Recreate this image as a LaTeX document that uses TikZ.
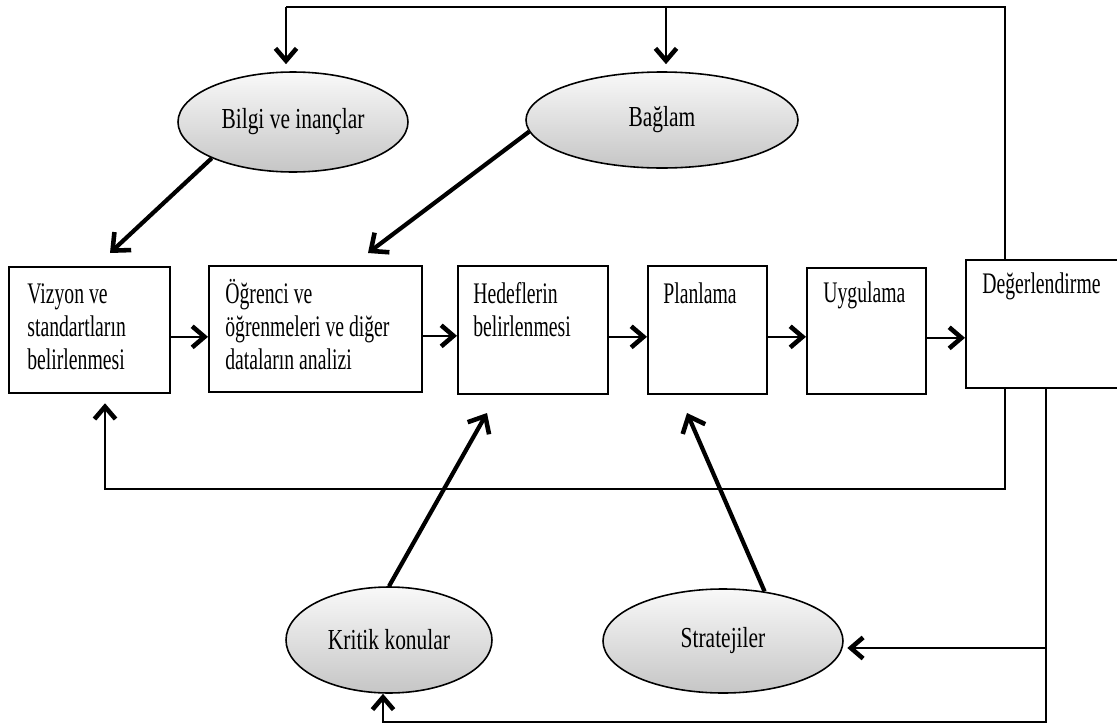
\documentclass[tikz,border=0pt]{standalone}
\usepackage{fontspec}
\setmainfont{Liberation Serif}[FakeStretch=0.66]
\newfontfamily\elipsyazi{Liberation Serif}[FakeStretch=0.74]
\usetikzlibrary{arrows.meta,shapes.geometric,calc}
\newcommand{\satir}[1]{\begin{tabular}[t]{@{}l@{}}#1\end{tabular}}
\tikzset{
  kutu/.style={draw,line width=0.9pt,anchor=north west,inner sep=0pt},
  elips/.style={ellipse,draw,line width=0.9pt,top color=gray!5,bottom color=gray!45,
    inner sep=0pt,font=\elipsyazi\fontsize{16.5}{19}\selectfont},
  yazi/.style={anchor=base west,inner sep=0pt,font=\fontsize{17}{18.8}\selectfont},
  ok/.style={line width=1.1pt,-{Straight Barb[length=7pt,width=12pt,line width=2.6pt]}},
  kalin/.style={line width=2.4pt,-{Straight Barb[length=8pt,width=14pt,line width=2.6pt]}},
}

\begin{document}
\begin{tikzpicture}[x=0.02cm,y=-0.02cm]
  \def\px{0.02cm}
  \useasboundingbox (0,0) rectangle (1117,724);
  \clip (0,0) rectangle (1117,724);

  % kutular
  \node[kutu,minimum width=161*\px,minimum height=126*\px] (vizyon) at (8,266) {};
  \node[kutu,minimum width=213*\px,minimum height=126*\px] (ogrenci) at (208,265) {};
  \node[kutu,minimum width=150*\px,minimum height=128*\px] (hedef) at (457,265) {};
  \node[kutu,minimum width=119*\px,minimum height=128*\px] (plan) at (647,265) {};
  \node[kutu,minimum width=119*\px,minimum height=126*\px] (uygu) at (806,267) {};
  \node[kutu,minimum width=200*\px,minimum height=128*\px] (deger) at (965,259) {};

  \node[yazi] (tvizyon) at ([shift={(19,37)}]vizyon.north west) {\satir{Vizyon ve\\standartların\\belirlenmesi}};
  \node[yazi] (togrenci) at ([shift={(17,38)}]ogrenci.north west) {\satir{Öğrenci ve\\öğrenmeleri ve diğer\\dataların analizi}};
  \node[yazi] (thedef) at ([shift={(16,38)}]hedef.north west) {\satir{Hedeflerin\\belirlenmesi}};
  \node[yazi] (tplan) at ([shift={(16,38)}]plan.north west) {Planlama};
  \node[yazi] (tuygu) at ([shift={(17,35)}]uygu.north west) {Uygulama};
  \node[yazi] (tdeger) at ([shift={(17,34)}]deger.north west) {Değerlendirme};

  % elipsler
  \node[elips,minimum width=230*\px,minimum height=100*\px] (bilgi) at (293,122) {Bilgi ve inançlar};
  \node[elips,minimum width=272*\px,minimum height=96*\px] (baglam) at (662,120) {Bağlam};
  \node[elips,minimum width=206*\px,minimum height=106*\px] (kritik) at (389,640) {Kritik konular};
  \node[elips,minimum width=240*\px,minimum height=104*\px] (strateji) at (723,641) {Stratejiler};

  \coordinate (tepe1) at (286,7);
  \coordinate (tepe2) at (666,7);
  \coordinate (alt1) at (105,489);
  \coordinate (alt2) at (383,722);
  \coordinate (dal) at (1046,648);
  \coordinate (u1) at (110,253);
  \coordinate (u2) at (368,253);
  \coordinate (u3) at (487,413);
  \coordinate (u4) at (687,413);

  % akis
  \foreach \a/\b in {vizyon/ogrenci,ogrenci/hedef,hedef/plan,plan/uygu,uygu/deger}
    \draw[ok] ([yshift=-4pt]\a.east) -- ([yshift=-4pt]\a.east -| \b.west);

  % geri bildirim
  \draw[line width=1.1pt] ([xshift=40*\px]deger.north west) |- (tepe1);
  \draw[ok,shorten >=4pt] (tepe1) -- (tepe1 |- bilgi.north);
  \draw[ok,shorten >=4pt] (tepe2) -- (tepe2 |- baglam.north);
  \draw[ok,shorten >=5.5pt] ([xshift=40*\px]deger.south west) |- (alt1) -- (alt1 |- vizyon.south);
  \draw[ok] ([xshift=81*\px]deger.south west) |- (alt2) -- (alt2 |- kritik.south);
  \draw[ok,shorten >=2pt] (dal) -- (dal -| strateji.east);

  % kalin oklar
  \draw[kalin] (bilgi.204) -- (u1);
  \draw[kalin] (baglam.185) -- (u2);
  \draw[kalin] (kritik.north) -- (u3);
  \draw[kalin] (strateji.50) -- (u4);
\end{tikzpicture}
\end{document}
